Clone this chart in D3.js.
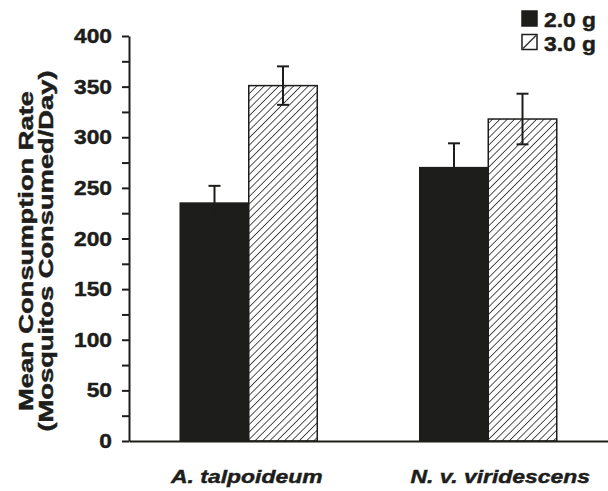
<!DOCTYPE html>
<html>
<head>
<meta charset="utf-8">
<script src="https://cdn.jsdelivr.net/npm/d3@7"></script>
<style>
  body { margin: 0; background: #fff; }
  text { font-family: "Liberation Sans", Arial, sans-serif; font-weight: bold; fill: #1d1d1b; stroke: #1d1d1b; stroke-width: 0.45px; }
</style>
</head>
<body>
<svg id="chart" width="608" height="491"></svg>
<script>
const species = ['A. talpoideum', 'N. v. viridescens'];
const sizes = ['2.0 g', '3.0 g'];
const means = [[235, 351], [270, 318]];
const errors = [[17, 19], [24, 25]];
const yTicks = [0, 50, 100, 150, 200, 250, 300, 350, 400];

const ink = '#1d1d1b';
const font = '"Liberation Sans", Arial, sans-serif';
const svg = d3.select('#chart');

// stretch text horizontally, the original type is wider than Arial
const widen = (sel, k) => sel.each(function () {
  const len = this.getComputedTextLength();
  d3.select(this).attr('textLength', len * k).attr('lengthAdjust', 'spacingAndGlyphs');
});

const y = d3.scaleLinear().domain([0, 400]).range([441, 36]);
const x0 = d3.scaleBand().domain(species).range([129, 608]).padding(0);
const x1 = d3.scaleBand().domain(sizes).range([0, x0.bandwidth()]).paddingInner(0).paddingOuter(0.748);

const defs = svg.append('defs');
const pat = defs.append('pattern')
  .attr('id', 'hatch')
  .attr('patternUnits', 'userSpaceOnUse')
  .attr('width', 5.2)
  .attr('height', 5.2)
  .attr('patternTransform', 'rotate(45)');
pat.append('rect').attr('width', 5.2).attr('height', 5.2).attr('fill', '#fff');
pat.append('line')
  .attr('x1', 0).attr('y1', 0).attr('x2', 0).attr('y2', 5.2)
  .attr('stroke', '#2a2a2a').attr('stroke-width', 1.6);

// bars
const groups = svg.append('g').selectAll('g')
  .data(species)
  .join('g')
  .attr('transform', d => `translate(${x0(d)},0)`);

const rows = (d, i) => sizes.map((s, j) => ({ s, v: means[i][j], e: errors[i][j] }));

groups.selectAll('rect')
  .data(rows)
  .join('rect')
  .attr('x', d => x1(d.s))
  .attr('width', x1.bandwidth())
  .attr('y', d => y(d.v))
  .attr('height', d => y(0) - y(d.v))
  .attr('fill', d => d.s === sizes[0] ? ink : 'url(#hatch)')
  .attr('stroke', ink)
  .attr('stroke-width', 1.5);

// error bars
const eb = groups.selectAll('g.err')
  .data(rows)
  .join('g')
  .attr('class', 'err')
  .attr('transform', d => `translate(${x1(d.s) + x1.bandwidth() / 2},0)`);
eb.append('line')
  .attr('y1', d => y(d.v - d.e)).attr('y2', d => y(d.v + d.e))
  .attr('stroke', ink).attr('stroke-width', 2);
eb.append('line')
  .attr('x1', -6).attr('x2', 6)
  .attr('y1', d => y(d.v + d.e)).attr('y2', d => y(d.v + d.e))
  .attr('stroke', ink).attr('stroke-width', 2);
eb.append('line')
  .attr('x1', -6).attr('x2', 6)
  .attr('y1', d => y(d.v - d.e)).attr('y2', d => y(d.v - d.e))
  .attr('stroke', ink).attr('stroke-width', 2)
  .attr('opacity', d => d.s === sizes[0] ? 0 : 1);

// y axis
const yAxis = d3.axisLeft(y)
  .tickValues(d3.range(0, 401, 25))
  .tickFormat(d => yTicks.includes(d) ? d : '')
  .tickSize(7)
  .tickSizeOuter(0)
  .tickPadding(10);
const ya = svg.append('g').attr('transform', 'translate(129,0)').call(yAxis);
ya.selectAll('path, line').attr('stroke', ink).attr('stroke-width', 2);
ya.selectAll('text')
  .attr('font-size', 20.5).attr('fill', ink).attr('font-family', font).attr('font-weight', 'bold')
  .call(widen, 1.11);

// x axis
const xa = svg.append('g').attr('transform', 'translate(0,441)')
  .call(d3.axisBottom(x0).tickSize(0).tickSizeOuter(0).tickPadding(29));
xa.select('.domain').attr('stroke', ink).attr('stroke-width', 2);
xa.selectAll('text')
  .attr('font-size', 18.8).attr('font-style', 'italic').attr('fill', ink)
  .attr('font-family', font).attr('font-weight', 'bold')
  .attr('dx', (d, i) => i === 0 ? -2 : 12)
  .call(widen, 1.22);

// y title
const title = svg.append('text')
  .attr('transform', 'translate(0,251) rotate(-90)')
  .attr('text-anchor', 'middle')
  .attr('font-size', 19.5);
title.append('tspan').attr('x', 0).attr('y', 33).text('Mean Consumption Rate');
title.append('tspan').attr('x', 0).attr('y', 53).text('(Mosquitos Consumed/Day)');
title.selectAll('tspan').call(widen, 1.4);

// legend
const legend = svg.append('g').attr('transform', 'translate(522,11)');
const li = legend.selectAll('g').data(sizes).join('g')
  .attr('transform', (d, i) => `translate(0,${i * 23.5})`);
li.append('rect')
  .attr('width', 15).attr('height', 15)
  .attr('fill', (d, i) => i === 0 ? ink : '#fff')
  .attr('stroke', ink).attr('stroke-width', 1.5);
li.filter((d, i) => i === 1).append('line')
  .attr('x1', 1).attr('y1', 14).attr('x2', 14).attr('y2', 1)
  .attr('stroke', '#333').attr('stroke-width', 1.5);
li.append('text')
  .attr('x', 22).attr('y', 16)
  .attr('font-size', 20.4)
  .text(d => d)
  .call(widen, 1.12);
</script>
</body>
</html>
